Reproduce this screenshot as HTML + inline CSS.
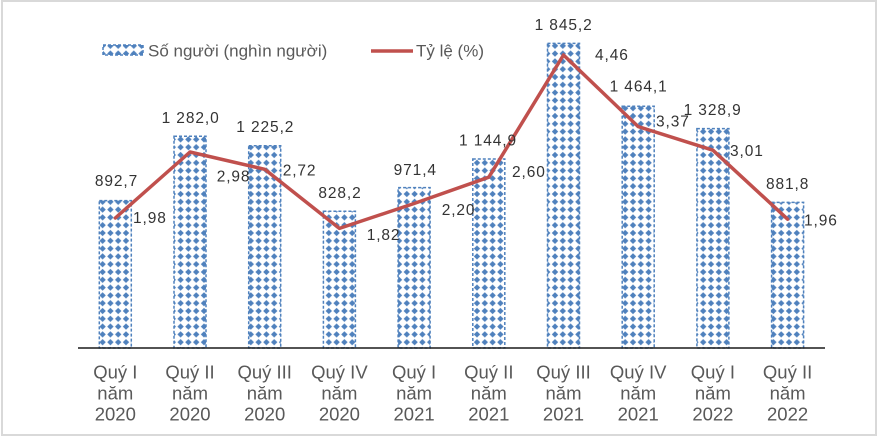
<!DOCTYPE html>
<html>
<head>
<meta charset="utf-8">
<style>
html,body{margin:0;padding:0;background:#fff;}
svg{display:block;}
.lbl{font-family:"Liberation Sans",Arial,sans-serif;font-size:15.5px;fill:#333333;letter-spacing:0.9px;}
.ax{font-family:"Liberation Sans",Arial,sans-serif;font-size:18.5px;fill:#595959;text-anchor:middle;}
.lg{font-family:"Liberation Sans",Arial,sans-serif;font-size:17px;fill:#595959;}
</style>
</head>
<body>
<svg width="879" height="437" viewBox="0 0 879 437" xmlns="http://www.w3.org/2000/svg">
<defs>
<pattern id="dia" patternUnits="userSpaceOnUse" x="551.1" y="151.1" width="7.8" height="7.8">
<rect width="7.8" height="7.8" fill="#fff"/>
<polygon points="3.9,0.7 7.1,3.9 3.9,7.1 0.7,3.9" fill="#4F81BD"/>
</pattern>
</defs>
<rect x="0" y="0" width="879" height="437" fill="#fff"/>
<rect x="2" y="1" width="874" height="434" fill="none" stroke="#d9d9d9" stroke-width="2"/>

<!-- legend -->
<rect x="103" y="45" width="40" height="10" fill="url(#dia)" stroke="#4F81BD" stroke-width="1.5" stroke-dasharray="3 2"/>
<text class="lg" x="148" y="56.5">Số người (nghìn người)</text>
<line x1="371" y1="51" x2="413" y2="51" stroke="#C0504D" stroke-width="3.5"/>
<text class="lg" x="416" y="56.5">Tỷ lệ (%)</text>

<!-- bars -->
<g fill="url(#dia)" stroke="#4F81BD" stroke-width="1.5" stroke-dasharray="3 2">
<rect x="99.3" y="200.6" width="32" height="147.4"/>
<rect x="174" y="136.3" width="32" height="211.7"/>
<rect x="248.7" y="145.7" width="32" height="202.3"/>
<rect x="323.4" y="211.3" width="32" height="136.7"/>
<rect x="398.1" y="187.6" width="32" height="160.4"/>
<rect x="472.8" y="159" width="32" height="189"/>
<rect x="547.5" y="43.4" width="32" height="304.6"/>
<rect x="622.2" y="106.3" width="32" height="241.7"/>
<rect x="696.9" y="128.6" width="32" height="219.4"/>
<rect x="771.6" y="202.4" width="32" height="145.6"/>
</g>

<!-- axis -->
<line x1="78" y1="348" x2="825" y2="348" stroke="#1a1a1a" stroke-width="1.5"/>

<!-- line -->
<polyline points="115.3,218 190,152 264.7,169.3 339.4,228.4 414.1,203.5 488.8,177.2 563.5,55 638.2,126.6 712.9,150.2 787.6,219.2" fill="none" stroke="#C0504D" stroke-width="3.5" stroke-linejoin="round" stroke-linecap="round"/>

<!-- bar labels -->
<g class="lbl" text-anchor="middle">
<text x="116.5" y="186">892,7</text>
<text x="190.6" y="123">1 282,0</text>
<text x="265.3" y="132">1 225,2</text>
<text x="340" y="198">828,2</text>
<text x="415.3" y="175">971,4</text>
<text x="488" y="145.5">1 144,9</text>
<text x="563.6" y="30">1 845,2</text>
<text x="638.6" y="91.7">1 464,1</text>
<text x="712.6" y="115">1 328,9</text>
<text x="787.6" y="189">881,8</text>
</g>

<!-- line labels -->
<g class="lbl">
<text x="133" y="223">1,98</text>
<text x="216.7" y="181.7">2,98</text>
<text x="282.7" y="175.7">2,72</text>
<text x="366.7" y="240">1,82</text>
<text x="441.7" y="215">2,20</text>
<text x="512" y="177">2,60</text>
<text x="595" y="60">4,46</text>
<text x="656" y="126.7">3,37</text>
<text x="730" y="156">3,01</text>
<text x="804" y="225.7">1,96</text>
</g>

<!-- x axis labels -->
<g class="ax">
<text x="115.3" y="378.3">Quý I</text><text x="115.3" y="399.3">năm</text><text x="115.3" y="420.7">2020</text>
<text x="190" y="378.3">Quý II</text><text x="190" y="399.3">năm</text><text x="190" y="420.7">2020</text>
<text x="264.7" y="378.3">Quý III</text><text x="264.7" y="399.3">năm</text><text x="264.7" y="420.7">2020</text>
<text x="339.4" y="378.3">Quý IV</text><text x="339.4" y="399.3">năm</text><text x="339.4" y="420.7">2020</text>
<text x="414.1" y="378.3">Quý I</text><text x="414.1" y="399.3">năm</text><text x="414.1" y="420.7">2021</text>
<text x="488.8" y="378.3">Quý II</text><text x="488.8" y="399.3">năm</text><text x="488.8" y="420.7">2021</text>
<text x="563.5" y="378.3">Quý III</text><text x="563.5" y="399.3">năm</text><text x="563.5" y="420.7">2021</text>
<text x="638.2" y="378.3">Quý IV</text><text x="638.2" y="399.3">năm</text><text x="638.2" y="420.7">2021</text>
<text x="712.9" y="378.3">Quý I</text><text x="712.9" y="399.3">năm</text><text x="712.9" y="420.7">2022</text>
<text x="787.6" y="378.3">Quý II</text><text x="787.6" y="399.3">năm</text><text x="787.6" y="420.7">2022</text>
</g>
</svg>
</body>
</html>
